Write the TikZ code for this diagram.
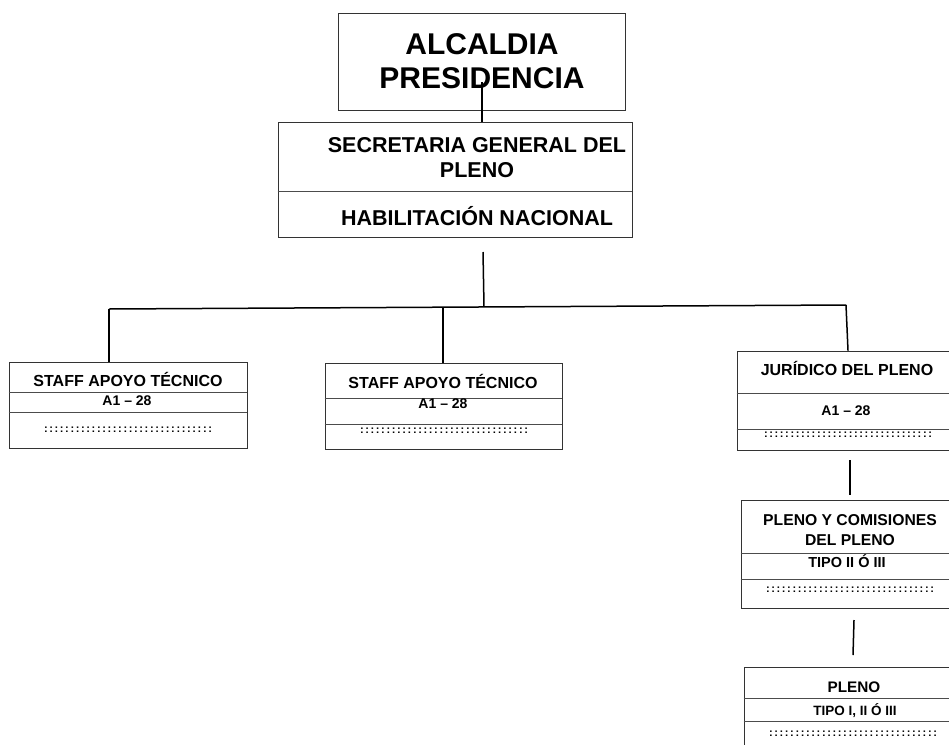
\documentclass[tikz,border=0pt]{standalone}
\usepackage{fontspec}
\setmainfont{Liberation Sans}
\usepackage{tikz}
\definecolor{box-gray}{gray}{0.2}
\definecolor{rule-gray}{gray}{0.3}
\newcommand{\dotrow}{\foreach \k in {1,...,32}{\makebox[5.3pt]{:}}}

\begin{document}
\begin{tikzpicture}[x=1pt,y=-1pt,
		orgbox/.style={draw=box-gray,line width=0.8pt,inner sep=0pt},
		txt/.style={inner sep=0pt,anchor=base,font=\bfseries\fontsize{#1}{#1}\selectfont},
		dots/.style={inner sep=0pt,font=\bfseries\fontsize{11}{11}\selectfont},
		link/.style={line width=1.5pt}]
			\useasboundingbox (0,0) rectangle (949,744);						% page
			\clip (0,0) rectangle (949,744);
			% boxes
			\node[orgbox,minimum width=287pt,minimum height=97pt] (alc) at (481.5,61.5) {};
			\node[orgbox,minimum width=354pt,minimum height=115pt] (sec) at (455,179.5) {};
			\node[orgbox,minimum width=238pt,minimum height=86pt] (staff1) at (128,405) {};
			\node[orgbox,minimum width=237pt,minimum height=86pt] (staff2) at (443.5,406) {};
			\node[orgbox,minimum width=222pt,minimum height=99pt] (jur) at (848,400.5) {};
			\node[orgbox,minimum width=218pt,minimum height=108pt] (pcom) at (850,554) {};
			\node[orgbox,minimum width=218pt,minimum height=93pt] (pleno) at (853,713.5) {};
			% dividers
			\draw [rule-gray] (sec.west |- 0,191) -- (sec.east |- 0,191);
			\foreach \b/\ya/\yb in {staff1/392/412,staff2/398/424,jur/393/429,pcom/553/579,pleno/698/721}{
				\draw [rule-gray] (\b.west |- 0,\ya) -- (\b.east |- 0,\ya);
				\draw [rule-gray] (\b.west |- 0,\yb) -- (\b.east |- 0,\yb);
			}
			% texts
			\node[txt=30] (alc1) at (482,54) {ALCALDIA};
			\node[txt=30] (alc2) at (482,88) {PRESIDENCIA};
			\node[txt=21.5] (sec1) at (477,152.7) {SECRETARIA GENERAL DEL};
			\node[txt=21.5] (sec2) at (477,177.7) {PLENO};
			\node[txt=21.5] (hab) at (477,225.7) {HABILITACIÓN NACIONAL};
			\node[txt=16] (staff1t) at (128,386.7) {STAFF APOYO TÉCNICO};
			\node[txt=14] (staff1c) at (127,405) {A1 – 28};
			\node[dots] (staff1d) at (128,430) {\dotrow};
			\node[txt=16] (staff2t) at (443,388.7) {STAFF APOYO TÉCNICO};
			\node[txt=14] (staff2c) at (443,408) {A1 – 28};
			\node[dots] (staff2d) at (444,431) {\dotrow};
			\node[txt=16] (jurt) at (847,375.7) {JURÍDICO DEL PLENO};
			\node[txt=14] (jurc) at (846,415) {A1 – 28};
			\node[dots] (jurd) at (848,435) {\dotrow};
			\node[txt=15.7] (pcom1) at (850,525.6) {PLENO Y COMISIONES};
			\node[txt=15.7] (pcom2) at (850,545.6) {DEL PLENO};
			\node[txt=14.5] (pcomc) at (847,567) {TIPO II Ó III};
			\node[dots] (pcomd) at (850,590) {\dotrow};
			\node[txt=15.3] (plenot) at (854,692) {PLENO};
			\node[txt=13.5] (plenoc) at (855,715) {TIPO I, II Ó III};
			\node[dots] (plenod) at (853,734) {\dotrow};
			% connectors
			\coordinate (alcfoot) at (482,82);
			\draw [link] (alcfoot) -- (alcfoot |- sec.north);
			\coordinate (trunk) at (483,252);
			\coordinate (trunkfoot) at (484,306.5);
			\draw [link] (trunk) -- (trunkfoot);
			\coordinate (barL) at (109,309);
			\coordinate (barM) at (443,307);
			\coordinate (barR) at (846,305);
			\draw [link] (barL) -- (barR);							% branch bar
			\draw [link] (barL) -- (barL |- staff1.north);
			\draw [link] (barM) -- (barM |- staff2.north);
			\draw [link] (barR) -- (jur.north);
			\coordinate (ja) at (850,460);
			\coordinate (jb) at (850,495);
			\draw [link] (ja) -- (jb);
			\coordinate (pa) at (854,620);
			\coordinate (pb) at (853,655);
			\draw [link] (pa) -- (pb);
		\end{tikzpicture}
\end{document}
